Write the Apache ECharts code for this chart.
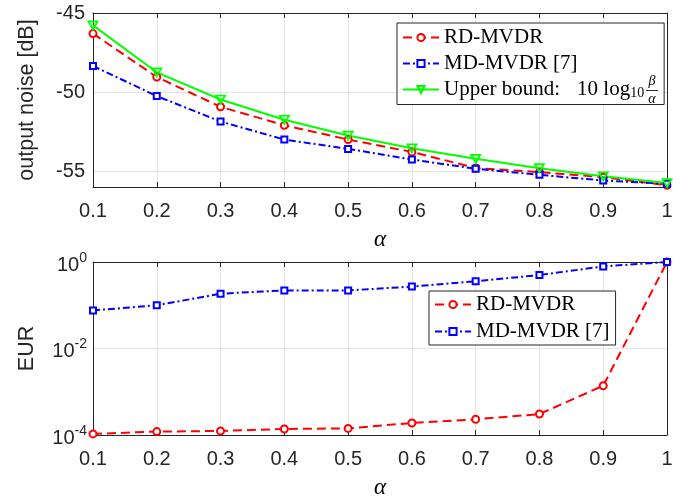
<!DOCTYPE html>
<html>
<head>
<meta charset="utf-8">
<script src="https://cdn.jsdelivr.net/npm/echarts@6/dist/echarts.min.js"></script>
<style>
html, body { margin: 0; padding: 0; background: #fff; }
#chart { width: 694px; height: 500px; }
</style>
</head>
<body>
<div id="chart"></div>
<script>
var alphas = ['0.1', '0.2', '0.3', '0.4', '0.5', '0.6', '0.7', '0.8', '0.9', '1'];

// top panel: output noise [dB]
var rdNoise = [-46.3, -49.05, -50.93, -52.1, -53.0, -53.78, -54.8, -55.06, -55.38, -55.89];
var mdNoise = [-48.35, -50.25, -51.86, -53.0, -53.59, -54.26, -54.85, -55.23, -55.59, -55.8];
var upperBound = [-45.78, -48.75, -50.47, -51.75, -52.75, -53.55, -54.22, -54.81, -55.32, -55.75];
var noiseTicks = [-55, -50, -45];

// bottom panel: EUR (log)
var rdEur = [1.06e-4, 1.2e-4, 1.24e-4, 1.38e-4, 1.42e-4, 1.9e-4, 2.3e-4, 3.05e-4, 1.38e-3, 1];
var mdEur = [0.076, 0.1, 0.185, 0.22, 0.22, 0.27, 0.357, 0.5, 0.79, 1];
var eurTicks = [1e-4, 1e-2, 1];

var axisColor = '#262626';
var gridColor = '#e3e3e3';
var sansFont = 'Liberation Sans';
var serifFont = 'Liberation Serif';

var chart = echarts.init(document.getElementById('chart'));

function bottomX(gridIndex) {
    return {
        gridIndex: gridIndex,
        type: 'category',
        data: alphas,
        boundaryGap: false,
        name: 'α',
        nameLocation: 'middle',
        nameGap: 41,
        nameTextStyle: { fontFamily: serifFont, fontStyle: 'italic', fontSize: 23, color: '#000' },
        axisLine: { lineStyle: { color: axisColor, width: 1 } },
        axisTick: { inside: true, length: 5, lineStyle: { color: axisColor } },
        axisLabel: { interval: 0, fontSize: 20, margin: 14, color: axisColor, fontFamily: sansFont },
        splitLine: { show: true, lineStyle: { color: gridColor, width: 1 } }
    };
}
function topX(gridIndex) {
    return {
        gridIndex: gridIndex,
        type: 'category',
        data: alphas,
        boundaryGap: false,
        position: 'top',
        axisLine: { lineStyle: { color: axisColor, width: 1 } },
        axisTick: { inside: true, length: 5, lineStyle: { color: axisColor } },
        axisLabel: { show: false },
        splitLine: { show: false }
    };
}

var sup = function (v) {
    var e = Math.round(Math.log(v) / Math.LN10);
    return '{b|10}{s|' + e + '}';
};

var legendText = { fontFamily: serifFont, fontSize: 21, color: '#000', lineHeight: 21 };

// series styles (MATLAB-like)
var rdStyle = {
    symbol: 'emptyCircle', symbolSize: 7,
    lineStyle: { color: '#ff0000', width: 2, type: [9, 5] },
    itemStyle: { color: '#ff0000', borderColor: '#ff0000', borderWidth: 1.8 }
};
var mdStyle = {
    symbol: 'emptyRect', symbolSize: 6,
    lineStyle: { color: '#0000ff', width: 2, type: [7, 3, 2, 3] },
    itemStyle: { color: '#0000ff', borderColor: '#0000ff', borderWidth: 1.8 }
};

var option = {
    backgroundColor: '#fff',
    animation: false,
    grid: [
        { left: 93, top: 13, width: 574, height: 174, show: false },
        { left: 93, top: 262, width: 574, height: 173.5, show: false }
    ],
    xAxis: [bottomX(0), topX(0), bottomX(1), topX(1)],
    yAxis: [
        {
            gridIndex: 0, type: 'value', min: -56, max: -45, interval: 1,
            name: 'output noise [dB]', nameLocation: 'middle', nameGap: 55,
            nameTextStyle: { fontFamily: sansFont, fontSize: 21.5, color: axisColor },
            axisLine: { show: true, lineStyle: { color: axisColor } },
            axisTick: { inside: true, length: 5, customValues: noiseTicks, lineStyle: { color: axisColor } },
            axisLabel: { customValues: noiseTicks, fontSize: 20, margin: 8, color: axisColor, fontFamily: sansFont },
            splitLine: { show: true, lineStyle: { color: gridColor } }
        },
        {
            gridIndex: 0, type: 'value', min: -56, max: -45, interval: 1, position: 'right',
            axisLine: { show: true, lineStyle: { color: axisColor } },
            axisTick: { inside: true, length: 5, customValues: noiseTicks, lineStyle: { color: axisColor } },
            axisLabel: { show: false },
            splitLine: { show: false }
        },
        {
            gridIndex: 1, type: 'log', logBase: 10, min: 1e-4, max: 1,
            name: 'EUR', nameLocation: 'middle', nameGap: 55,
            nameTextStyle: { fontFamily: sansFont, fontSize: 21.5, color: axisColor },
            axisLine: { show: true, lineStyle: { color: axisColor } },
            axisTick: { inside: true, length: 5, customValues: eurTicks, lineStyle: { color: axisColor } },
            axisLabel: {
                customValues: eurTicks, margin: 6, color: axisColor, formatter: sup,
                rich: {
                    b: { fontSize: 20, fontFamily: sansFont, color: axisColor, padding: [6, 0, 0, 0] },
                    s: { fontSize: 14, fontFamily: sansFont, color: axisColor, padding: [0, 0, 8, 0] }
                }
            },
            splitLine: { show: true, lineStyle: { color: gridColor } }
        },
        {
            gridIndex: 1, type: 'log', logBase: 10, min: 1e-4, max: 1, position: 'right',
            axisLine: { show: true, lineStyle: { color: axisColor } },
            axisTick: { inside: true, length: 5, customValues: eurTicks, lineStyle: { color: axisColor } },
            axisLabel: { show: false },
            splitLine: { show: false }
        }
    ],
    legend: [
        {
            orient: 'vertical', left: 397, top: 23,
            data: ['RD-MVDR', 'MD-MVDR [7]', 'Upper bound'],
            selectedMode: false,
            padding: [4, 4, 4, 5], itemGap: 5, itemWidth: 36, itemHeight: 9,
            borderColor: axisColor, borderWidth: 1, backgroundColor: '#fff',
            formatter: function (name) {
                if (name === 'Upper bound') return '{t|Upper bound:}{n|10 log}{s|10}{g|}';
                return name;
            },
            textStyle: {
                fontFamily: serifFont, fontSize: 21, color: '#000', lineHeight: 21,
                rich: {
                    t: legendText,
                    n: { fontFamily: serifFont, fontSize: 21, color: '#000', lineHeight: 21, padding: [0, 0, 0, 17] },
                    s: { fontFamily: serifFont, fontSize: 14, color: '#000', padding: [8, 0, 0, 0] },
                    g: { width: 16 }
                }
            }
        },
        {
            orient: 'vertical', left: 429, top: 291,
            data: ['RD-MVDR', 'MD-MVDR [7]'],
            selectedMode: false,
            padding: [3, 6, 3, 5], itemGap: 6, itemWidth: 36, itemHeight: 9,
            borderColor: axisColor, borderWidth: 1, backgroundColor: '#fff',
            textStyle: legendText
        }
    ],
    graphic: [
        { type: 'text', x: 652, y: 81, z: 100, style: { text: 'β', fontFamily: serifFont, fontStyle: 'italic', fontSize: 14, fill: '#000', align: 'center', verticalAlign: 'middle' } },
        { type: 'line', z: 100, shape: { x1: 646, y1: 90.5, x2: 658, y2: 90.5 }, style: { stroke: '#000', lineWidth: 0.8 } },
        { type: 'text', x: 652, y: 99, z: 100, style: { text: 'α', fontFamily: serifFont, fontStyle: 'italic', fontSize: 14, fill: '#000', align: 'center', verticalAlign: 'middle' } }
    ],
    series: [
        Object.assign({ name: 'RD-MVDR', type: 'line', xAxisIndex: 0, yAxisIndex: 0, data: rdNoise }, rdStyle),
        Object.assign({ name: 'MD-MVDR [7]', type: 'line', xAxisIndex: 0, yAxisIndex: 0, data: mdNoise }, mdStyle),
        {
            name: 'Upper bound', type: 'line', xAxisIndex: 0, yAxisIndex: 0, data: upperBound,
            symbol: 'path://M0,0 L10,0 L5,9 Z', symbolSize: [9, 8],
            lineStyle: { color: '#00ff00', width: 2 },
            itemStyle: { color: 'rgba(0,255,0,0.15)', borderColor: '#00ff00', borderWidth: 1.8 }
        },
        Object.assign({ name: 'RD-MVDR', type: 'line', xAxisIndex: 2, yAxisIndex: 2, data: rdEur }, rdStyle),
        Object.assign({ name: 'MD-MVDR [7]', type: 'line', xAxisIndex: 2, yAxisIndex: 2, data: mdEur }, mdStyle)
    ]
};

chart.setOption(option);
</script>
</body>
</html>
